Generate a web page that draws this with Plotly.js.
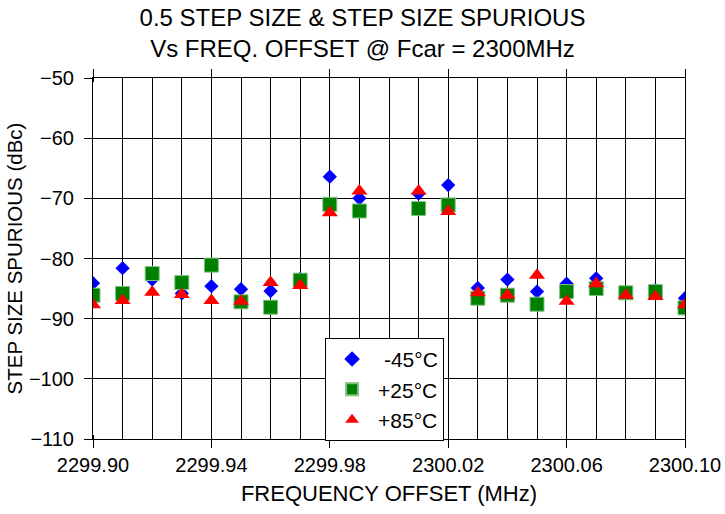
<!DOCTYPE html>
<html>
<head>
<meta charset="utf-8">
<script src="https://cdn.plot.ly/plotly-3.0.1.min.js"></script>
<style>html,body{margin:0;padding:0;background:#fff}#chart{width:725px;height:514px}</style>
</head>
<body>
<div id="chart"></div>
<script>
var freq = [2299.90, 2299.91, 2299.92, 2299.93, 2299.94, 2299.95, 2299.96, 2299.97, 2299.98, 2299.99,
            2300.01, 2300.02, 2300.03, 2300.04, 2300.05, 2300.06, 2300.07, 2300.08, 2300.09, 2300.10];
var m45 = [-84.1, -81.6, -83.5, -85.8, -84.6, -85.1, -85.4, -83.4, -66.4, -70.0,
           -69.2, -67.8, -84.9, -83.5, -85.5, -84.2, -83.3, -85.6, -85.2, -86.6];
var p25 = [-86.1, -85.8, -82.5, -84.0, -81.1, -87.2, -88.1, -83.6, -71.0, -72.1,
           -71.7, -71.1, -86.6, -86.1, -87.6, -85.5, -85.0, -85.7, -85.5, -88.2];
var p85 = [-87.7, -87.0, -85.6, -86.0, -87.0, -87.1, -84.0, -84.5, -72.4, -68.8,
           -68.8, -72.2, -85.7, -86.1, -82.8, -87.1, -84.2, -86.1, -86.3, -87.7];
var names = ['-45°C', '+25°C', '+85°C'];

var traces = [
  {x: freq, y: m45, name: '\u00a0' + names[0], type: 'scatter', mode: 'markers',
   marker: {symbol: 'diamond', size: 11, color: '#0000FF', line: {width: 0}}},
  {x: freq, y: p25, name: names[1], type: 'scatter', mode: 'markers',
   marker: {symbol: 'square', size: 14, color: '#008000', line: {width: 1, color: '#80c080'}}},
  {x: freq, y: p85, name: names[2], type: 'scatter', mode: 'markers',
   marker: {symbol: 'triangle-up', size: 14, color: '#FF0000', line: {width: 0}}}
];

var layout = {
  width: 725, height: 514,
  margin: {l: 93, r: 40, t: 78, b: 75},
  paper_bgcolor: '#fff', plot_bgcolor: '#fff',
  font: {family: 'Liberation Sans, Arial, sans-serif', color: '#000', size: 20},
  title: {text: '0.5 STEP SIZE & STEP SIZE SPURIOUS<br>Vs FREQ. OFFSET @ Fcar = 2300MHz',
          font: {size: 24}, x: 0.5, xanchor: 'center', y: 0.95, yanchor: 'top'},
  xaxis: {range: [2299.90, 2300.10], dtick: 0.04, tick0: 2299.90, tickformat: '.2f',
          ticks: 'outside', ticklen: 8, tickcolor: '#000',
          showgrid: true, gridcolor: '#000', gridwidth: 1,
          minor: {dtick: 0.01, showgrid: true, gridcolor: '#000', gridwidth: 1, ticks: 'inside', ticklen: 4, tickcolor: '#000'},
          showline: true, linecolor: '#000', linewidth: 1, mirror: 'ticks', zeroline: false,
          title: {text: 'FREQUENCY OFFSET (MHz)', font: {size: 22}, standoff: 10},
          tickfont: {size: 20}},
  yaxis: {range: [-110, -50], dtick: 10, ticks: 'outside', ticklen: 8, tickcolor: '#000',
          ticklabelstandoff: 6,
          showgrid: true, gridcolor: '#000', gridwidth: 1,
          showline: true, linecolor: '#000', linewidth: 1, mirror: true, zeroline: false,
          title: {text: 'STEP SIZE SPURIOUS (dBc)', font: {size: 20.5}, standoff: 0},
          tickfont: {size: 20}},
  showlegend: true,
  legend: {x: 0.392, y: 0.28, xanchor: 'left', yanchor: 'top',
           bgcolor: '#fff', bordercolor: '#000', borderwidth: 1,
           font: {size: 21}, itemsizing: 'constant', itemwidth: 42, tracegroupgap: 4}
};

Plotly.newPlot('chart', traces, layout, {displayModeBar: false, staticPlot: true});
</script>
</body>
</html>
